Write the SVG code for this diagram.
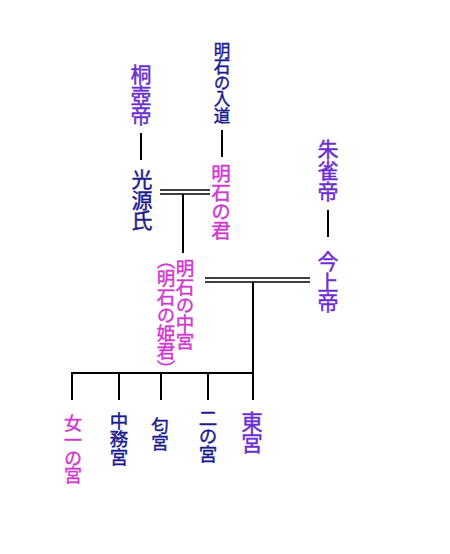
<svg xmlns="http://www.w3.org/2000/svg" width="450" height="554" viewBox="0 0 450 554">
<style>
text{font-family:"Noto Sans CJK JP","Noto Sans CJK SC",sans-serif;writing-mode:vertical-rl;text-orientation:upright;font-weight:400;stroke-width:0.45}
.pu{fill:#6b2fcf;stroke:#6b2fcf}
.mg{fill:#cf3acf;stroke:#cf3acf}
.nv{fill:#1c1c8e;stroke:#1c1c8e}
.ln{stroke:#000;stroke-width:2;fill:none}
.dl{stroke:#000;stroke-width:1.5;fill:none}
</style>
<rect width="450" height="554" fill="#fff"/>
<g id="connectors">
<line class="ln" x1="141" y1="133" x2="141" y2="160"/>
<line class="ln" x1="222" y1="130" x2="222" y2="157"/>
<line class="dl" x1="160" y1="190" x2="210" y2="190"/>
<line class="dl" x1="160" y1="194" x2="210" y2="194"/>
<line class="ln" x1="183" y1="194" x2="183" y2="253"/>
<line class="ln" x1="328" y1="210" x2="328" y2="237"/>
<line class="dl" x1="205" y1="278" x2="310" y2="278"/>
<line class="dl" x1="205" y1="282" x2="310" y2="282"/>
<line class="ln" x1="253" y1="282" x2="253" y2="400"/>
<line class="ln" x1="71" y1="373" x2="254" y2="373"/>
<line class="ln" x1="72" y1="373" x2="72" y2="400"/>
<line class="ln" x1="119" y1="373" x2="119" y2="400"/>
<line class="ln" x1="161" y1="373" x2="161" y2="400"/>
<line class="ln" x1="208" y1="373" x2="208" y2="400"/>
</g>
<g id="kiritsubo">
<text class="pu" x="141" y="64" font-size="21" letter-spacing="-0.5">桐壺帝</text>
</g>
<g id="akashi-nyudo">
<text class="nv" x="222" y="42" font-size="16.5" letter-spacing="-0.2">明石の入道</text>
</g>
<g id="genji">
<text class="nv" x="142" y="169" font-size="21" letter-spacing="-0.5">光源氏</text>
</g>
<g id="akashi-no-kimi">
<text class="mg" x="221" y="164" font-size="19.5" letter-spacing="-0.5">明石の君</text>
</g>
<g id="suzaku">
<text class="pu" x="328" y="139" font-size="21">朱雀帝</text>
</g>
<g id="kinjo">
<text class="pu" x="328" y="251" font-size="21" letter-spacing="-0.5">今上帝</text>
</g>
<g id="akashi-chugu">
<text class="mg" x="185" y="259" font-size="18.5" letter-spacing="-0.2">明石の中宮</text>
<text class="mg" x="166" y="251" font-size="18.5" letter-spacing="-0.3">︵明石の姫君︶</text>
</g>
<g id="onna-ichi">
<text class="mg" x="73" y="414" font-size="18" letter-spacing="-0.5">女一の宮</text>
</g>
<g id="nakatsukasa">
<text class="nv" x="119" y="412" font-size="18.5" letter-spacing="-0.5">中務宮</text>
</g>
<g id="niou">
<text class="nv" x="160" y="417" font-size="17.5" letter-spacing="-0.5">匂宮</text>
</g>
<g id="ninomiya">
<text class="nv" x="208" y="409" font-size="18.5" letter-spacing="-0.5">二の宮</text>
</g>
<g id="togu">
<text class="pu" x="252" y="411" font-size="21.5" letter-spacing="-0.5">東宮</text>
</g>
</svg>
